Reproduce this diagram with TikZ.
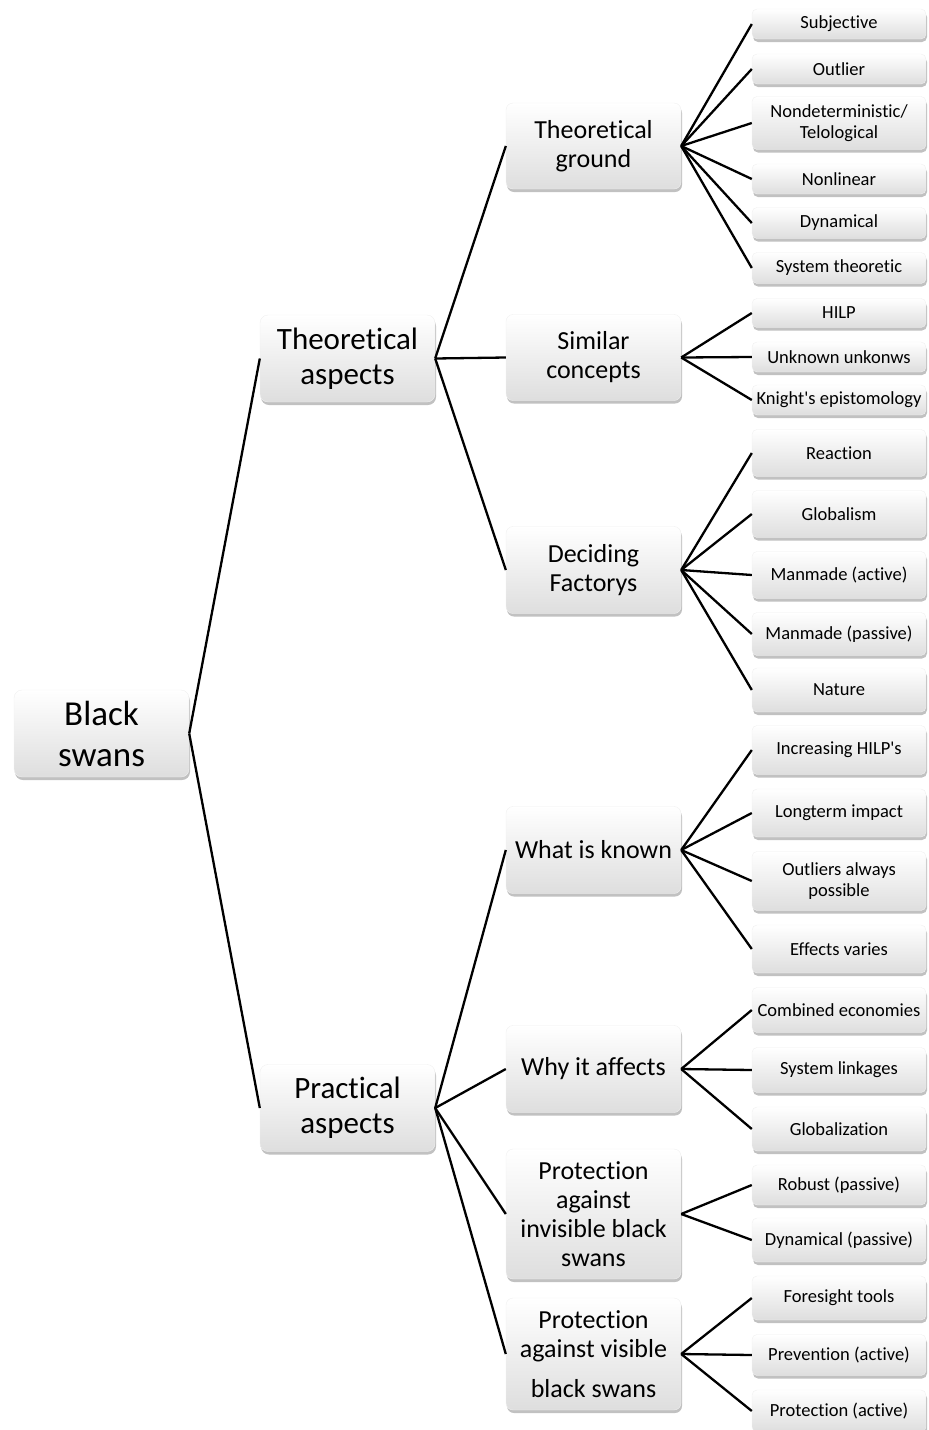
\documentclass[tikz,border=0pt]{standalone}
\usepackage{fontspec}
\setmainfont{Carlito}[Ligatures=NoCommon]
\usetikzlibrary{shadows}
\tikzset{
  box/.style={rounded corners=6pt, top color=white, bottom color=black!13, draw=black!6, line width=0.4pt,
    drop shadow={shadow xshift=1pt, shadow yshift=-3pt, opacity=0.35, fill=black!70},
    align=center, inner sep=0pt, text=black},
  rootbox/.style={box, rounded corners=8pt, minimum width=175pt, minimum height=87pt, font=\fontsize{35}{41}\selectfont},
  lvone/.style={box, rounded corners=8pt, minimum width=175pt, minimum height=87pt, font=\fontsize{31}{35}\selectfont},
  lvtwo/.style={box, rounded corners=7pt, minimum width=175pt, minimum height=#1, font=\fontsize{26}{29}\selectfont},
  leaf/.style={box, rounded corners=5pt, minimum width=174pt, minimum height=#1, font=\fontsize{18.5}{21}\selectfont},
  link/.style={line width=2.3pt, black}
}
\begin{document}
\begin{tikzpicture}[x=1pt, y=-1pt]
\useasboundingbox (0,0) rectangle (929,1430);
% root and level 1
\node[rootbox] (root) at (101.5,733.5) {Black\\swans};
\node[lvone] (ta) at (347.5,358.5) {Theoretical\\aspects};
\node[lvone] (pa) at (347.5,1108) {Practical\\aspects};
% level 2
\node[lvtwo=86pt] (tg) at (593.5,146) {Theoretical\\ground};
\node[lvtwo=86pt] (sc) at (593.5,357.5) {Similar\\concepts};
\node[lvtwo=87pt] (df) at (593.5,570) {Deciding\\Factorys};
\node[lvtwo=87pt] (wk) at (593.5,850) {What is known};
\node[lvtwo=87pt] (wa) at (593.5,1069) {Why it affects};
\node[lvtwo=130pt] (pi) at (593.5,1214) {Protection\\against\\invisible black\\swans};
\node[lvtwo=112pt] (pv) at (593.5,1354) {Protection\\against visible\\[11pt]black swans};
% leaves
\node[leaf=30pt] (l1) at (839,24) {Subjective};
\node[leaf=30pt] (l2) at (839,69) {Outlier};
\node[leaf=53pt] (l3) at (839,123) {Nondeterministic/\\Telological};
\node[leaf=30pt] (l4) at (839,179) {Nonlinear};
\node[leaf=31pt] (l5) at (839,223) {Dynamical};
\node[leaf=31pt] (l6) at (839,268) {System theoretic};
\node[leaf=29pt] (l7) at (839,313) {HILP};
\node[leaf=30pt] (l8) at (839,357) {Unknown unkonws};
\node[leaf=30pt] (l9) at (839,400) {Knight\textquotesingle s epistomology};
\node[leaf=47pt] (l10) at (839,453) {Reaction};
\node[leaf=47pt] (l11) at (839,514) {Globalism};
\node[leaf=47pt] (l12) at (839,575) {Manmade (active)};
\node[leaf=43pt] (l13) at (839,634) {Manmade (passive)};
\node[leaf=44pt] (l14) at (839,690) {Nature};
\node[leaf=49pt] (l15) at (839,750) {Increasing HILP\textquotesingle s};
\node[leaf=48pt] (l16) at (839,813) {Longterm impact};
\node[leaf=59pt] (l17) at (839,881) {Outliers always\\possible};
\node[leaf=48pt] (l18) at (839,949) {Effects varies};
\node[leaf=45pt] (l19) at (839,1010) {Combined economies};
\node[leaf=45pt] (l20) at (839,1070) {System linkages};
\node[leaf=44pt] (l21) at (839,1129) {Globalization};
\node[leaf=40pt] (l22) at (839,1185) {Robust (passive)};
\node[leaf=44pt] (l23) at (839,1240) {Dynamical (passive)};
\node[leaf=44pt] (l24) at (839,1298) {Foresight tools};
\node[leaf=41pt] (l25) at (839,1355) {Prevention (active)};
\node[leaf=42pt] (l26) at (839,1411) {Protection (active)};
% connectors
\foreach \c in {ta,pa} \draw[link] (root.east) -- (\c.west);
\foreach \c in {tg,sc,df} \draw[link] (ta.east) -- (\c.west);
\foreach \c in {wk,wa,pi,pv} \draw[link] (pa.east) -- (\c.west);
\foreach \c in {l1,l2,l3,l4,l5,l6} \draw[link] (tg.east) -- (\c.west);
\foreach \c in {l7,l8,l9} \draw[link] (sc.east) -- (\c.west);
\foreach \c in {l10,l11,l12,l13,l14} \draw[link] (df.east) -- (\c.west);
\foreach \c in {l15,l16,l17,l18} \draw[link] (wk.east) -- (\c.west);
\foreach \c in {l19,l20,l21} \draw[link] (wa.east) -- (\c.west);
\foreach \c in {l22,l23} \draw[link] (pi.east) -- (\c.west);
\foreach \c in {l24,l25,l26} \draw[link] (pv.east) -- (\c.west);
\end{tikzpicture}
\end{document}
